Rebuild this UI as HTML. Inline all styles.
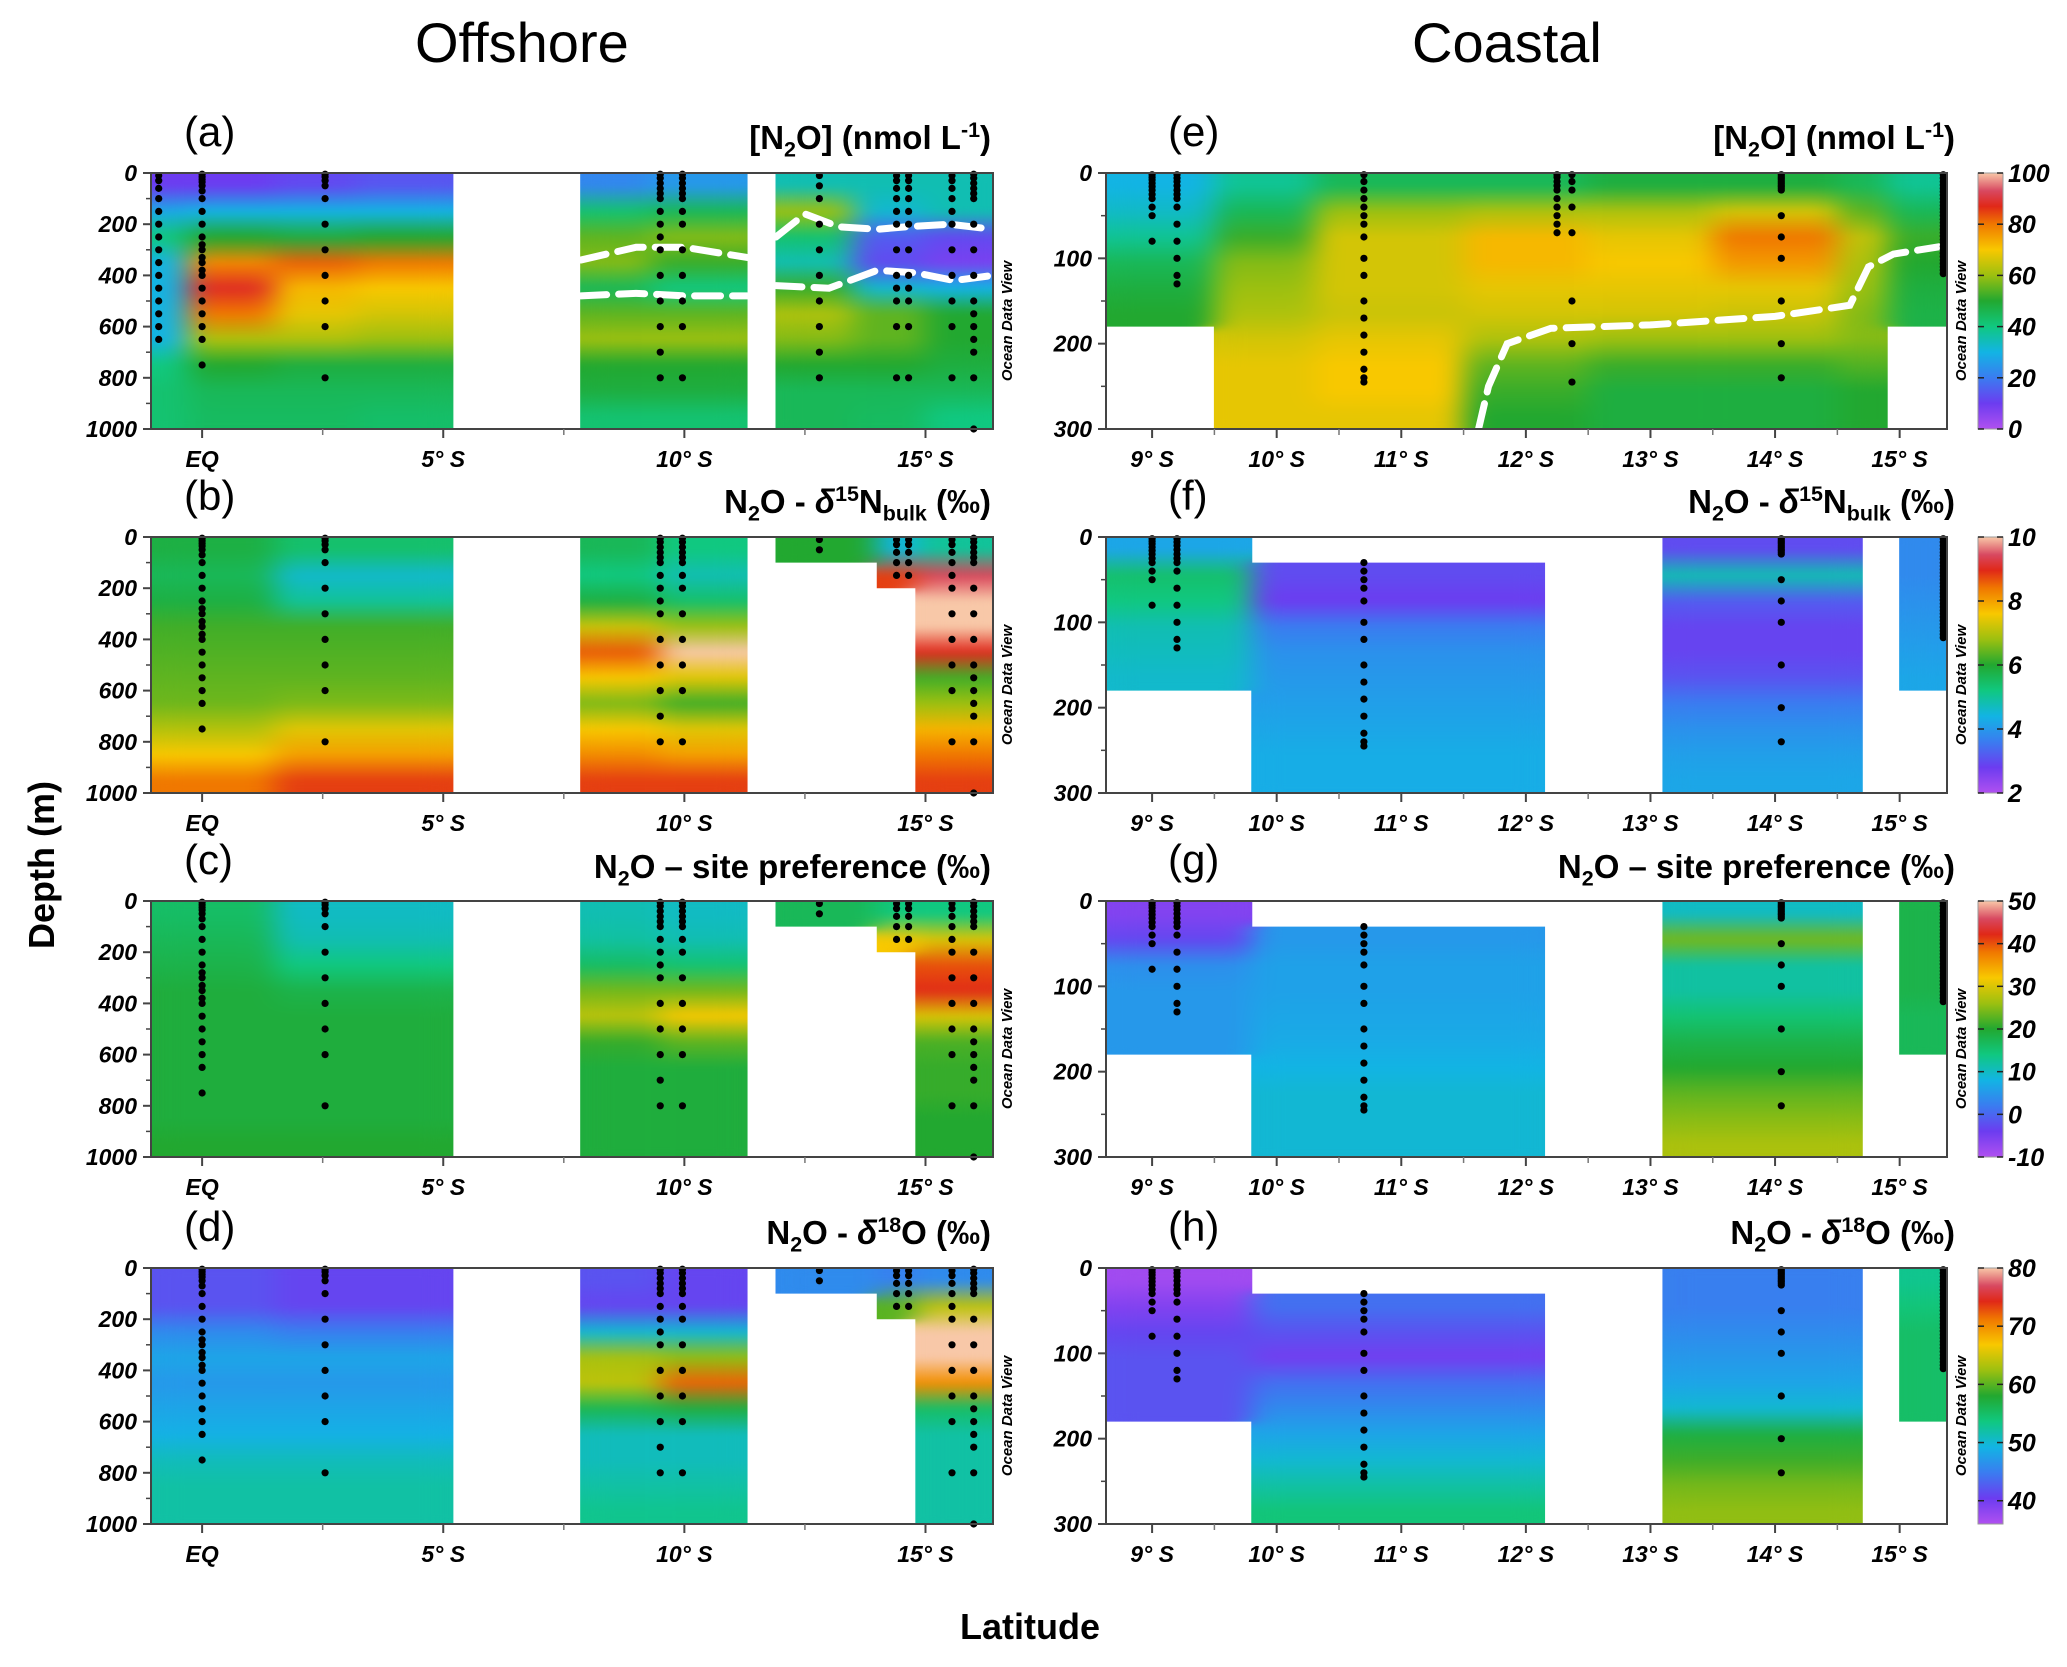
<!DOCTYPE html>
<html><head><meta charset="utf-8">
<style>
html,body{margin:0;padding:0;background:#fff;}
body{width:2067px;height:1667px;position:relative;overflow:hidden;font-family:"Liberation Sans",Arial,sans-serif;}
.t{position:absolute;white-space:nowrap;color:#000;}
.big{font-size:56px;}
.lab{font-size:42px;}
.ttl{font-size:33px;font-weight:bold;text-align:right;}
.ax{font-size:36px;font-weight:bold;}
sub,sup{font-size:65%;}
svg{position:absolute;left:0;top:0;}
</style></head>
<body>
<div class="t big" style="left:415px;top:10px;">Offshore</div>
<div class="t big" style="left:1412px;top:10px;">Coastal</div>
<div class="t ax" style="left:-38px;top:848px;transform:rotate(-90deg);transform-origin:center;width:160px;text-align:center;">Depth (m)</div>
<div class="t ax" style="left:960px;top:1606px;">Latitude</div>

<div class="t lab" style="left:184px;top:108px;">(a)</div>
<div class="t ttl" style="right:1076px;top:118px;">[N<sub>2</sub>O] (nmol L<sup>-1</sup>)</div>
<div class="t lab" style="left:184px;top:472px;">(b)</div>
<div class="t ttl" style="right:1076px;top:482px;">N<sub>2</sub>O - <i>δ</i><sup>15</sup>N<sub>bulk</sub> (‰)</div>
<div class="t lab" style="left:184px;top:836px;">(c)</div>
<div class="t ttl" style="right:1076px;top:848px;">N<sub>2</sub>O – site preference (‰)</div>
<div class="t lab" style="left:184px;top:1203px;">(d)</div>
<div class="t ttl" style="right:1076px;top:1213px;">N<sub>2</sub>O - <i>δ</i><sup>18</sup>O (‰)</div>

<div class="t lab" style="left:1168px;top:108px;">(e)</div>
<div class="t ttl" style="right:112px;top:118px;">[N<sub>2</sub>O] (nmol L<sup>-1</sup>)</div>
<div class="t lab" style="left:1168px;top:472px;">(f)</div>
<div class="t ttl" style="right:112px;top:482px;">N<sub>2</sub>O - <i>δ</i><sup>15</sup>N<sub>bulk</sub> (‰)</div>
<div class="t lab" style="left:1168px;top:836px;">(g)</div>
<div class="t ttl" style="right:112px;top:848px;">N<sub>2</sub>O – site preference (‰)</div>
<div class="t lab" style="left:1168px;top:1203px;">(h)</div>
<div class="t ttl" style="right:112px;top:1213px;">N<sub>2</sub>O - <i>δ</i><sup>18</sup>O (‰)</div>

<svg id="chart" width="2067" height="1667" xmlns="http://www.w3.org/2000/svg">
<defs>
<filter id="sm" x="-3%" y="-3%" width="106%" height="106%" color-interpolation-filters="sRGB">
<feGaussianBlur stdDeviation="14 4"/>
<feComponentTransfer><feFuncA type="linear" slope="60" intercept="0"/></feComponentTransfer>
</filter>
</defs>
</svg>

<script>
// ---------- data ----------
const rowTops = [173, 537, 901, 1268];
const offTickLat = [0, 5, 10, 15];
const offTickLabels = ["EQ", "5° S", "10° S", "15° S"];
const offDepthTicks = [0, 200, 400, 600, 800, 1000];
const coastTickLat = [9, 10, 11, 12, 13, 14, 15];
const coastTickLabels = ["9° S", "10° S", "11° S", "12° S", "13° S", "14° S", "15° S"];
const coastDepthTicks = [0, 100, 200, 300];

// panel a  [N2O]
const aColStart = [-1.06, -0.3, 1.5, 3.2, 7.85, 9.3, 11.9, 13.5, 15];
const aColEnd = [-0.3, 1.5, 3.2, 5.2, 9.3, 11.3, 13.5, 15, 16.4];
const aValues = [
 [10,28,40,30,30,30,30,40,42,42],
 [10,30,50,78,88,80,62,50,45,44],
 [12,30,48,82,72,68,62,48,45,44],
 [14,30,50,80,70,66,60,48,45,43],
 [22,42,55,58,45,55,60,50,48,42],
 [25,45,58,52,40,55,60,50,48,42],
 [35,60,42,35,52,62,58,50,45,45],
 [35,32,15,12,32,55,55,50,45,44],
 [35,35,12,8,30,50,50,48,45,40]];
// panel b  d15N bulk
const bColStart = [-1.06, 1.5, 7.85, 9.5, 11.9, 14, 14.8];
const bColEnd = [1.5, 5.2, 9.5, 11.3, 14, 14.8, 16.4];
const bValues = [
 [5.8,5.6,5.8,6.2,6.3,6.4,6.5,7.0,7.6,8.4],
 [5.4,4.6,5.0,6.2,6.3,6.4,6.6,7.4,8.0,8.8],
 [5.6,5.2,5.8,7.2,8.6,7.6,6.6,7.6,8.2,8.8],
 [5.2,4.8,5.4,6.8,10,7.4,6.2,7.4,8.0,8.8],
 [6.0,null,null,null,null,null,null,null,null,null],
 [4.4,8.8,null,null,null,null,null,null,null,null],
 [5,9.4,10,10,9,6.2,6.8,7.8,8.4,8.8]];
// panel c  site preference
const cColStart = [-1.06, 1.5, 7.85, 9.5, 11.9, 14, 14.8];
const cColEnd = [1.5, 5.2, 9.5, 11.3, 14, 14.8, 16.4];
const cValues = [
 [16,17,18,19,19,19,19,19,19,20],
 [10,11,14,18,19,19,19,19,19,20],
 [11,12,16,24,28,21,19,19,19,19],
 [10,11,15,24,32,23,19,19,19,19],
 [17,null,null,null,null,null,null,null,null,null],
 [14,32,null,null,null,null,null,null,null,null],
 [14,30,40,42,30,22,21,21,20,20]];
// panel d  d18O
const dColStart = [-1.06, 1.5, 7.85, 9.5, 11.9, 14, 14.8];
const dColEnd = [1.5, 5.2, 9.5, 11.3, 14, 14.8, 16.4];
const dValues = [
 [42,42,46,48,47,48,49,51,52,52],
 [41,41,45,48,47,48,49,51,52,52],
 [42,41,50,63,64,56,51,51,52,53],
 [41,41,50,62,72,57,51,51,52,53],
 [46,null,null,null,null,null,null,null,null,null],
 [45,60,null,null,null,null,null,null,null,null],
 [46,64,80,80,70,55,52,52,52,52]];
// panel e  [N2O] coastal
const eColStart = [8.63, 9.5, 10.3, 11.5, 12.5, 13.5, 14.5, 14.9];
const eColEnd = [9.5, 10.3, 11.5, 12.5, 13.5, 14.5, 14.9, 15.38];
const eValues = [
 [30,33,38,45,48,50,null,null,null,null],
 [38,45,52,58,60,62,66,68,68,68],
 [45,60,66,66,66,65,68,70,70,68],
 [45,62,72,72,68,66,62,55,52,50],
 [48,62,68,70,68,66,60,52,48,48],
 [48,66,80,76,68,65,60,52,48,48],
 [45,55,64,62,60,58,58,54,50,50],
 [38,45,52,50,48,47,null,null,null,null]];
// panel f
const fColStart = [8.63, 9.8, 13.1, 15.0];
const fColEnd = [9.8, 12.15, 14.7, 15.38];
const fValues = [
 [4.2,5.4,5.2,4.8,4.7,4.6,null,null,null,null],
 [null,3.0,2.8,3.6,3.9,4.0,4.1,4.2,4.3,4.3],
 [3.0,4.8,3.2,2.9,2.9,3.1,3.6,3.9,4.1,4.2],
 [3.8,3.8,3.9,4.0,4.1,4.2,null,null,null,null]];
// panel g
const gColStart = [8.63, 9.8, 13.1, 15.0];
const gColEnd = [9.8, 12.15, 14.7, 15.38];
const gValues = [
 [-6,-3,4,5,5,5,null,null,null,null],
 [null,5,6,6,6.5,7,8,9,9,9],
 [10,24,12,12,15,18,20,23,25,27],
 [18,18,18,18,17,17,null,null,null,null]];
// panel h
const hColStart = [8.63, 9.8, 13.1, 15.0];
const hColEnd = [9.8, 12.15, 14.7, 15.38];
const hValues = [
 [37,39,41,42,42,42,null,null,null,null],
 [null,44,42,40,44,46,48,50,52,54],
 [45,45,46,47,48,50,57,59,61,62],
 [53,54,55,55,55,55,null,null,null,null]];

// stations
const offStLat = [-0.9, 0, 2.55, 9.5, 9.96, 12.8, 14.4, 14.65, 15.55, 16.0];
const offStDepths = [
 [10,30,60,100,150,200,250,300,350,400,450,500,550,600,650],
 [5,15,25,35,50,70,100,150,200,250,280,300,330,350,380,400,450,500,550,600,650,750],
 [5,15,30,50,100,200,300,400,500,600,800],
 [5,20,40,60,80,100,150,200,250,300,400,500,600,700,800],
 [5,20,40,60,80,100,150,200,300,400,500,600,800],
 [10,50,100,200,300,400,500,600,700,800],
 [10,30,60,100,150,200,300,400,450,500,600,800],
 [10,30,60,100,150,200,300,400,450,500,600,800],
 [10,30,60,100,150,200,300,400,500,600,800],
 [5,20,40,60,80,100,200,300,400,500,550,600,650,700,800,1000]];
const coastStLat = [9.0, 9.2, 10.7, 12.25, 12.37, 14.05, 15.35];
const coastStDepths = [
 [2,5,8,12,16,20,25,30,40,50,80],
 [2,6,10,15,20,25,30,40,60,80,100,120,130],
 [2,10,20,30,40,50,60,75,100,120,150,170,190,210,230,240,245],
 [2,5,10,15,20,30,40,50,60,70],
 [2,10,20,40,70,150,200,245],
 [2,4,6,8,10,12,14,16,18,20,50,75,100,150,200,240],
 [2,6,10,14,18,22,26,30,34,38,42,46,50,54,58,62,66,70,74,78,82,86,90,94,98,102,106,110,114,118]];

// white dashed boundaries
const aDash1Lat = [7.85, 9, 10, 11.3];
const aDash1Depth = [340, 290, 290, 330];
const aDash2Lat = [7.85, 9, 10, 11.3];
const aDash2Depth = [480, 470, 480, 480];
const aDash3Lat = [11.9, 12.5, 13.2, 14, 14.6, 15.5, 16.4];
const aDash3Depth = [250, 160, 210, 220, 210, 200, 220];
const aDash4Lat = [11.9, 13, 14, 14.8, 15.6, 16.4];
const aDash4Depth = [440, 450, 380, 390, 420, 400];
const eDashLat = [11.62, 11.7, 11.85, 12.2, 13, 14, 14.6, 14.75, 14.95, 15.38];
const eDashDepth = [300, 250, 200, 182, 178, 168, 155, 110, 95, 85];

// colormap (ODV rainbow)
const CM = [[0,'#b050f0'],[0.1,'#6c3cf0'],[0.2,'#3a7cf0'],[0.3,'#12b4e4'],[0.4,'#10c880'],[0.5,'#22a830'],[0.6,'#9cc010'],[0.7,'#f8c800'],[0.8,'#f07800'],[0.87,'#e02818'],[0.93,'#d84860'],[1,'#f8c8a8']];
function hex(c){return [parseInt(c.slice(1,3),16),parseInt(c.slice(3,5),16),parseInt(c.slice(5,7),16)];}
function cmap(t){
  t=Math.max(0,Math.min(1,t));
  for(let i=1;i<CM.length;i++){ if(t<=CM[i][0]){ const a=CM[i-1],b=CM[i]; const f=(t-a[0])/(b[0]-a[0]); const A=hex(a[1]),B=hex(b[1]); return 'rgb('+A.map((v,k)=>Math.round(v+(B[k]-v)*f)).join(',')+')'; } }
  return CM[CM.length-1][1];
}

const NS='http://www.w3.org/2000/svg';
const svg=document.getElementById('chart');
const defs=svg.querySelector('defs');
function mk(tag,attrs,parent){const e=document.createElementNS(NS,tag);for(const k in attrs)e.setAttribute(k,attrs[k]);(parent||svg).appendChild(e);return e;}
let gid=0;

function drawPanel(p){
  const x0=p.x0,x1=p.x1,y0=p.top,y1=p.top+256;
  const xs=lat=>x0+(lat-p.latMin)/(p.latMax-p.latMin)*(x1-x0);
  const ys=d=>y0+d/p.dMax*(y1-y0);
  const nb=p.values[0].length, bin=p.dMax/nb;
  const g=mk('g',{});
  
  
  const clipId='clip'+p.id;
  const clip=mk('clipPath',{id:clipId},defs);
  const fill=mk('g',{'clip-path':'url(#'+clipId+')'},g);
  
  
  const blur=mk('g',{filter:'url(#sm)'},fill);
  p.colStart.forEach((ls,ci)=>{
    const vals=p.values[ci];
    let i=0;
    while(i<nb){
      if(vals[i]==null){i++;continue;}
      let j=i; while(j+1<nb && vals[j+1]!=null) j++;
      const ya=ys(i*bin), yb=ys((j+1)*bin);
      const id='gr'+(gid++);
      const lg=mk('linearGradient',{id:id,gradientUnits:'userSpaceOnUse',x1:0,y1:ya,x2:0,y2:yb},defs);
      for(let k=i;k<=j;k++){
        const yc=ys((k+0.5)*bin);
        mk('stop',{offset:((yc-ya)/(yb-ya)).toFixed(4),'stop-color':cmap((vals[k]-p.vMin)/(p.vMax-p.vMin))},lg);
      }
      const xa=xs(ls), xb=xs(p.colEnd[ci]);
      const r=mk('rect',{x:xa,y:ya,width:xb-xa,height:yb-ya,fill:'url(#'+id+')'},blur);
      
      
      mk('rect',{x:xa-0.5,y:ya,width:xb-xa+1,height:yb-ya},clip);
      i=j+1;
    }
  });
  (p.dashes||[]).forEach(([la,de])=>{
    const pts=la.map((l,k)=>xs(l)+','+ys(de[k])).join(' ');
    const pl=mk('polyline',{points:pts,fill:'none',stroke:'#fff','stroke-width':7,'stroke-dasharray':'26 12','stroke-linecap':'round'},g);
    
    
  });
  p.stLat.forEach((la,si)=>{
    if(p.skip && p.skip.includes(si)) return;
    let ci=p.colStart.findIndex((s,k)=>la>=s && la<=p.colEnd[k]);
    if(ci<0) return;
    p.stDepths[si].forEach(d=>{
      if(d>p.dMax) return;
      const bi=Math.min(nb-1,Math.floor(d/bin));
      if(p.values[ci][bi]==null) return;
      const c=mk('circle',{cx:xs(la),cy:ys(d),r:3.6,fill:'#000'},g);
      
      
    });
  });
  const fr=mk('rect',{x:x0,y:y0,width:x1-x0,height:y1-y0,fill:'none',stroke:'#444','stroke-width':2},g);
  
  
  p.dTicks.forEach(d=>{
    mk('line',{x1:x0-8,x2:x0,y1:ys(d),y2:ys(d),stroke:'#444','stroke-width':2},g);
    const t=mk('text',{x:x0-14,y:ys(d)+8,'text-anchor':'end','font-size':23,'font-weight':'bold','font-style':'italic','font-family':'Liberation Sans, sans-serif'},g);
    t.textContent=d;
    
    
  });
  for(let k=0;k<p.dTicks.length-1;k++){const dm=(p.dTicks[k]+p.dTicks[k+1])/2; mk('line',{x1:x0-5,x2:x0,y1:ys(dm),y2:ys(dm),stroke:'#444','stroke-width':1.5},g);}
  p.xTicks.forEach((la,k)=>{
    mk('line',{x1:xs(la),x2:xs(la),y1:y1,y2:y1+9,stroke:'#444','stroke-width':2},g);
    const t=mk('text',{x:xs(la),y:y1+38,'text-anchor':'middle','font-size':23,'font-weight':'bold','font-style':'italic','font-family':'Liberation Sans, sans-serif'},g);
    t.textContent=p.xLabels[k];
    
    
  });
  p.xMinor.forEach(la=>{ if(la>p.latMin&&la<p.latMax) mk('line',{x1:xs(la),x2:xs(la),y1:y1,y2:y1+6,stroke:'#777','stroke-width':1.5},g); });
  const wx=x1+19, wy=(y0+y1)/2+20;
  const w=mk('text',{x:wx,y:wy,'text-anchor':'middle','font-size':15,'font-weight':'bold','font-style':'italic','font-family':'Liberation Sans, sans-serif',transform:'rotate(-90 '+wx+' '+wy+')'},g);
  w.textContent='Ocean Data View';
  
  
  if(p.cbTicks){
    const cx=1978, cw=25;
    const id='cb'+p.id;
    const lg=mk('linearGradient',{id:id,x1:0,y1:1,x2:0,y2:0},defs);
    CM.forEach(s=>mk('stop',{offset:s[0],'stop-color':s[1]},lg));
    const cb=mk('rect',{x:cx,y:y0,width:cw,height:y1-y0,fill:'url(#'+id+')',stroke:'#999','stroke-width':1},g);
    
    
    p.cbTicks.forEach(v=>{
      const yy=y1-(v-p.vMin)/(p.vMax-p.vMin)*(y1-y0);
      mk('line',{x1:cx,x2:cx+6,y1:yy,y2:yy,stroke:'#222','stroke-width':1.5},g);
      mk('line',{x1:cx+cw-6,x2:cx+cw,y1:yy,y2:yy,stroke:'#222','stroke-width':1.5},g);
      const t=mk('text',{x:cx+cw+5,y:yy+9,'font-size':25,'font-weight':'bold','font-style':'italic','font-family':'Liberation Sans, sans-serif'},g);
      t.textContent=v;
      
      
    });
  }
}

const OFF={x0:151,x1:993,latMin:-1.06,latMax:16.4,dMax:1000,dTicks:offDepthTicks,xTicks:offTickLat,xLabels:offTickLabels,xMinor:[2.5,7.5,12.5],stLat:offStLat,stDepths:offStDepths};
const CO={x0:1106,x1:1947,latMin:8.63,latMax:15.38,dMax:300,dTicks:coastDepthTicks,xTicks:coastTickLat,xLabels:coastTickLabels,xMinor:[9.5,10.5,11.5,12.5,13.5,14.5],stLat:coastStLat,stDepths:coastStDepths};

drawPanel(Object.assign({},OFF,{id:'a',top:rowTops[0],colStart:aColStart,colEnd:aColEnd,values:aValues,vMin:0,vMax:100,dashes:[[aDash1Lat,aDash1Depth],[aDash2Lat,aDash2Depth],[aDash3Lat,aDash3Depth],[aDash4Lat,aDash4Depth]]}));
drawPanel(Object.assign({},OFF,{id:'b',top:rowTops[1],colStart:bColStart,colEnd:bColEnd,values:bValues,vMin:2,vMax:10,skip:[0]}));
drawPanel(Object.assign({},OFF,{id:'c',top:rowTops[2],colStart:cColStart,colEnd:cColEnd,values:cValues,vMin:-10,vMax:50,skip:[0]}));
drawPanel(Object.assign({},OFF,{id:'d',top:rowTops[3],colStart:dColStart,colEnd:dColEnd,values:dValues,vMin:36,vMax:80,skip:[0]}));
drawPanel(Object.assign({},CO,{id:'e',top:rowTops[0],colStart:eColStart,colEnd:eColEnd,values:eValues,vMin:0,vMax:100,cbTicks:[0,20,40,60,80,100],dashes:[[eDashLat,eDashDepth]]}));
drawPanel(Object.assign({},CO,{id:'f',top:rowTops[1],colStart:fColStart,colEnd:fColEnd,values:fValues,vMin:2,vMax:10,cbTicks:[2,4,6,8,10],skip:[3]}));
drawPanel(Object.assign({},CO,{id:'g',top:rowTops[2],colStart:gColStart,colEnd:gColEnd,values:gValues,vMin:-10,vMax:50,cbTicks:[-10,0,10,20,30,40,50],skip:[3]}));
drawPanel(Object.assign({},CO,{id:'h',top:rowTops[3],colStart:hColStart,colEnd:hColEnd,values:hValues,vMin:36,vMax:80,cbTicks:[40,50,60,70,80],skip:[3]}));
</script>
</body></html>
